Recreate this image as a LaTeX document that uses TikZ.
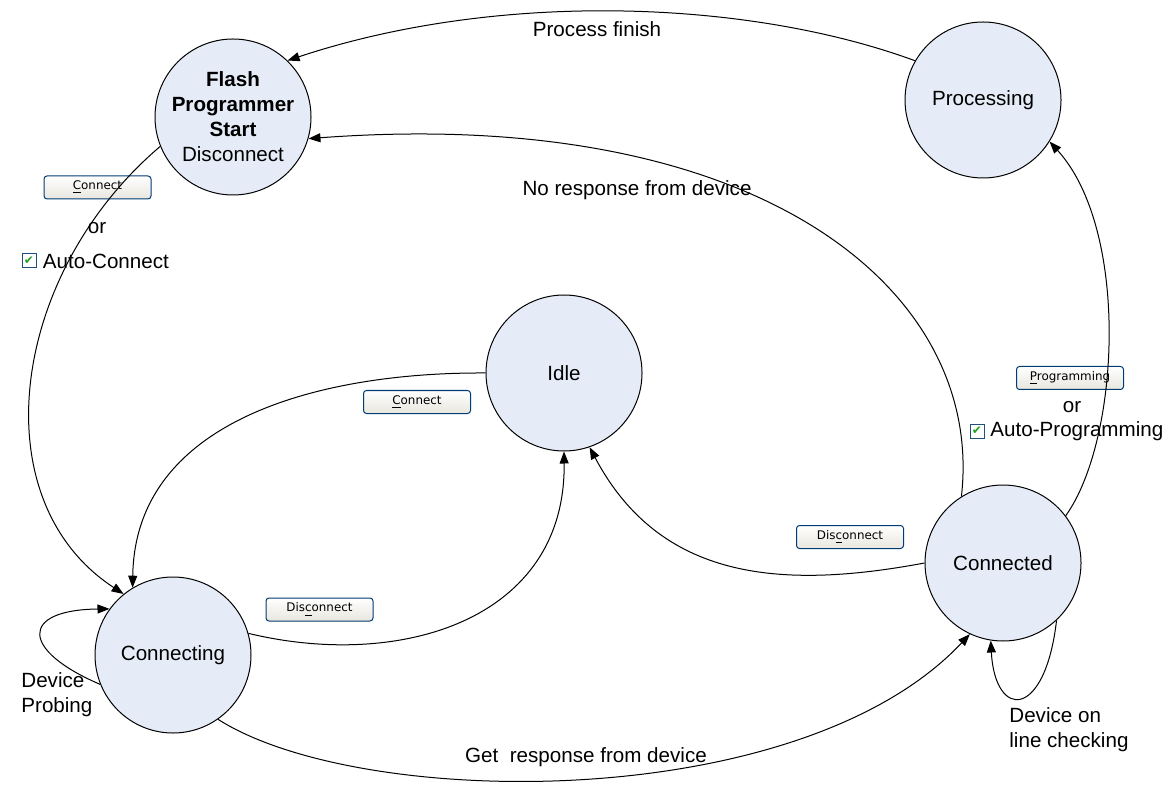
\documentclass[tikz,border=0pt]{standalone}
\usepackage{xcolor}
\definecolor{azulclaro}{RGB}{230, 236, 247}
\definecolor{bordebtn}{RGB}{0, 60, 116}
\definecolor{grisbtn}{RGB}{232, 230, 222}
\definecolor{bordechk}{RGB}{28, 81, 128}
\definecolor{verdechk}{RGB}{33, 161, 33}
\usepackage{fontspec}
\setmainfont{Liberation Sans}
\newfontfamily\btnfont{DejaVu Sans}
\usepackage{tikz}
\usetikzlibrary{positioning, arrows.meta}

\begin{document}
\begin{tikzpicture}[x=0.5pt, y=-0.5pt,
  stnode/.style={circle, draw=black, line width=0.5pt, fill=azulclaro, minimum size=78pt, inner sep=0pt, align=center, font=\fontsize{10.3}{12.5}\selectfont},
  lbl/.style={font=\fontsize{10.3}{12.5}\selectfont, inner sep=0pt},
  btn/.style={rectangle, rounded corners=1.5pt, draw=bordebtn, line width=0.5pt, top color=white, bottom color=grisbtn, minimum width=53.5pt, minimum height=11.5pt, inner sep=0pt, font=\btnfont\fontsize{5.95}{7}\selectfont},
  chk/.style={rectangle, draw=bordechk, line width=0.5pt, fill=white, minimum size=7pt, inner sep=0pt, text=verdechk, font=\btnfont\fontsize{6}{6}\selectfont},
  edgearrow/.style={-{Triangle[length=6pt, width=4.5pt]}, line width=0.5pt}
]
  \useasboundingbox (0,0) rectangle (1170,785);

  % states
  \node[stnode] (start) at (233,117) {\textbf{Flash}\\\textbf{Programmer}\\\textbf{Start}\\Disconnect};
  \node[stnode] (proc) at (983,100) {Processing};
  \node[stnode] (idle) at (564,373) {Idle};
  \node[stnode] (conn) at (1003,563) {Connected};
  \node[stnode] (cing) at (173,655) {Connecting};

  % buttons and check boxes
  \node[btn] (btnconnect) at (97.5,187.5) {\underline{C}onnect};
  \node[lbl] (orconnect) at (97,228) {or};
  \node[chk] (chkconnect) at (29,261) {✔};
  \node[lbl, right=3pt of chkconnect] (autoconnect) {Auto-Connect};

  \node[btn] (btnidle) at (417,402) {\underline{C}onnect};
  \node[btn] (btndisc) at (319.5,609.5) {Dis\underline{c}onnect};
  \node[btn] (btndisconn) at (850,537) {Dis\underline{c}onnect};

  \node[btn] (btnprog) at (1070,378) {\underline{P}rogramming};
  \node[lbl] (orprog) at (1072,407) {or};
  \node[chk] (chkprog) at (977,431) {✔};
  \node[lbl, right=2.75pt of chkprog] (autoprog) {Auto-Programming};

  % transition labels
  \node[lbl] (lblfinish) at (597,29) {Process finish};
  \node[lbl] (lblnoresp) at (637,190) {No response from device};
  \node[lbl] (lblgetresp) at (586,757) {Get\ \ response from device};
  \node[lbl, align=left, anchor=west] (lblprobe) at (21,695) {Device\\Probing};
  \node[lbl, align=left, anchor=west] (lblcheck) at (1009,730) {Device on\\line checking};

  % transitions
  \draw[edgearrow] (proc.150) .. controls (750,0) and (500,-10) .. (start.46);
  \draw[edgearrow] (conn.122) .. controls (985,290) and (760,105) .. (start.-16);
  \draw[edgearrow] (conn.37) .. controls (1120,440) and (1130,230) .. (proc.-32);
  \draw[edgearrow] (start.202) .. controls (10,274) and (-20,500) .. (cing.129);
  \draw[edgearrow] (idle.180) .. controls (320,372) and (135,420) .. (cing.121);
  \draw[edgearrow] (cing.16) .. controls (400,670) and (566,620) .. (idle.-90);
  \draw[edgearrow] (conn.180) .. controls (780,590) and (660,580) .. (idle.-71);
  \draw[edgearrow] (cing.-55) .. controls (360,810) and (800,815) .. (conn.-115);
  \draw[edgearrow] (cing.202) .. controls (20,650) and (20,610) .. (cing.144);
  \draw[edgearrow] (conn.-47) .. controls (1045,720) and (995,720) .. (conn.-99);
\end{tikzpicture}
\end{document}
